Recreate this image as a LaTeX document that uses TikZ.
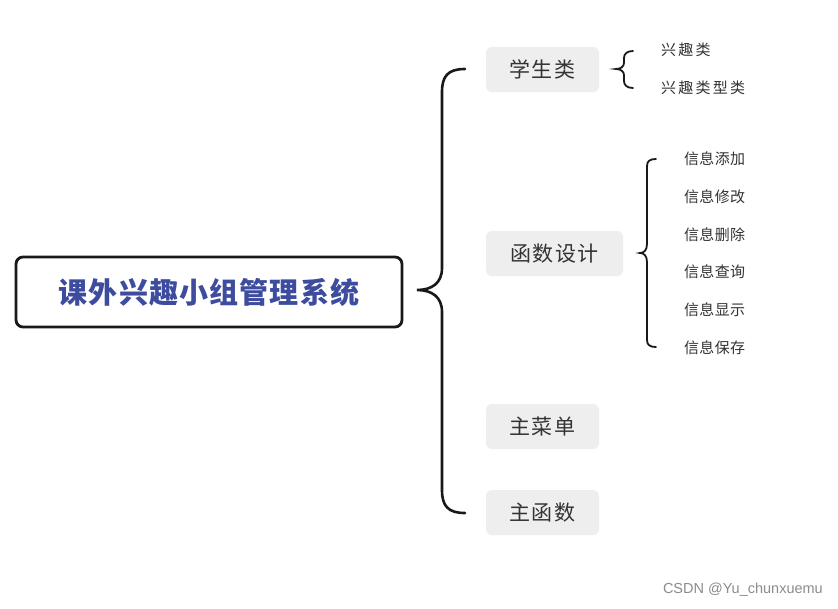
\documentclass[tikz,border=0pt]{standalone}
\usepackage{fontspec}
\newfontfamily\cjk{Noto Sans CJK SC}
\newfontfamily\wm{Liberation Sans}
\definecolor{titleblue}{HTML}{3D4C9E}
\definecolor{boxgray}{HTML}{EEEEEE}
\definecolor{txt}{HTML}{333333}
\begin{document}
\begin{tikzpicture}[x=1pt,y=-1pt,
  mainbox/.style={draw=black!90,line width=2.8pt,rounded corners=7pt,minimum width=386pt,minimum height=70pt,font=\cjk\bfseries\fontsize{29}{29}\selectfont\addfontfeature{LetterSpace=4},text=titleblue},
  catbox/.style={fill=boxgray,rounded corners=6pt,minimum height=45pt,font=\cjk\fontsize{21}{21}\selectfont\addfontfeature{LetterSpace=5},text=txt},
  leaf/.style={anchor=west,font=\cjk\fontsize{15}{15}\selectfont\addfontfeature{LetterSpace=2},text=txt,inner sep=0pt},
  leafw/.style={leaf,font=\cjk\fontsize{15}{15}\selectfont\addfontfeature{LetterSpace=15}},
  bigbrace/.style={draw=black!90,line width=2.6pt,line cap=round},
  smallbrace/.style={draw=black!90,line width=1.8pt,line cap=round}]
\useasboundingbox (0,0) rectangle (838,608);
\fill[white] (0,0) rectangle (838,608);
\node[mainbox] (main) at (209,292) {课外兴趣小组管理系统};
\node[catbox,minimum width=113pt] (stu) at (542.5,69.5) {学生类};
\node[catbox,minimum width=137pt] (fun) at (554.5,253.5) {函数设计};
\node[catbox,minimum width=113pt] (menu) at (542.5,426.5) {主菜单};
\node[catbox,minimum width=113pt] (mainf) at (542.5,512.5) {主函数};
% big brace
\coordinate (bt) at (465,69);
\coordinate (bb) at (465,513);
\coordinate (btip) at (417,290);
\draw[bigbrace] (bt) .. controls (448,69) and (442,76) .. (442,92) -- (442,268)
  .. controls (442,283) and (432,290) .. (btip)
  .. controls (432,290) and (442,297) .. (442,312) -- (442,490)
  .. controls (442,506) and (448,513) .. (bb);
% small brace for stu
\node[leafw] (l1) at (661,50) {兴趣类};
\node[leafw] (l2) at (661,88) {兴趣类型类};
\draw[smallbrace] (633,51) .. controls (627,51) and (624,54) .. (624,58) -- (624,63)
  .. controls (624,67) and (620,69) .. (616,69)
  .. controls (620,69) and (624,71) .. (624,75) -- (624,81)
  .. controls (624,85) and (627,88) .. (633,88);
% brace for functions
\node[leaf] (f1) at (684,159) {信息添加};
\node[leaf] (f2) at (684,197) {信息修改};
\node[leaf] (f3) at (684,235) {信息删除};
\node[leaf] (f4) at (684,272) {信息查询};
\node[leaf] (f5) at (684,310) {信息显示};
\node[leaf] (f6) at (684,348) {信息保存};
\draw[smallbrace] (656,159) .. controls (650,159) and (647,161) .. (647,166) -- (647,244)
  .. controls (647,250) and (644,253) .. (640,253)
  .. controls (644,253) and (647,256) .. (647,262) -- (647,340)
  .. controls (647,345) and (650,347) .. (656,347);
\node[anchor=east,font=\wm\fontsize{14.5}{14.5}\selectfont,text=black!45,inner sep=0pt] (wmk) at (823,590) {CSDN @Yu\_chunxuemu};
\end{tikzpicture}
\end{document}
